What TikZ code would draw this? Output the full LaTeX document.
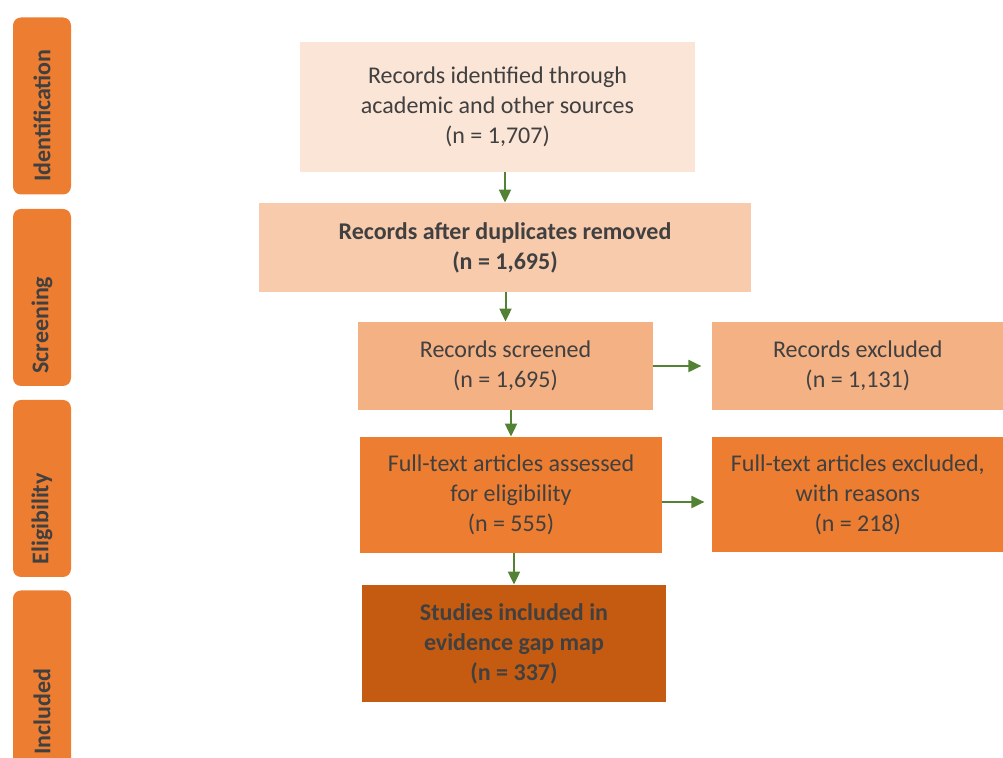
\documentclass[tikz,border=0pt]{standalone}
\usepackage{fontspec}
\setmainfont{Carlito}
\usepackage{tikz}
\usetikzlibrary{positioning,arrows.meta}
\definecolor{peachA}{HTML}{FBE5D6}
\definecolor{peachB}{HTML}{F8CBAD}
\definecolor{peachC}{HTML}{F4B183}
\definecolor{orangeA}{HTML}{ED7D31}
\definecolor{orangeB}{HTML}{C55A11}
\definecolor{txtgrey}{HTML}{404040}
\definecolor{arrgreen}{HTML}{548235}

\begin{document}
\begin{tikzpicture}[x=0.5pt, y=-0.5pt,
      every node/.style={align=center, text=txtgrey, inner sep=0pt,
        font=\fontsize{12}{15}\selectfont},
      tab/.style={fill=orangeA, rounded corners=4pt, rotate=90,
        minimum width=88.5pt, minimum height=29pt, text width=76pt,
        align=left, inner xsep=6pt, font=\fontsize{12}{15}\selectfont\bfseries},
      arr/.style={draw=arrgreen, line width=1pt, -{Triangle[length=6.5pt, width=6pt]}},
      idw/.style={minimum width=197.5pt, minimum height=65pt},
      dupw/.style={minimum width=246pt, minimum height=44.5pt},
      smallw/.style={minimum width=147.5pt, minimum height=44pt},
      exw/.style={minimum width=146pt, minimum height=44pt},
      midw/.style={minimum width=151pt, minimum height=58pt},
      bigw/.style={minimum width=146pt, minimum height=57.5pt},
      incw/.style={minimum width=152pt, minimum height=58.5pt}]
    \useasboundingbox (0,0) rectangle (1003,758);
    \clip (0,0) rectangle (1003,758);

    % stage tabs
    \node[tab] (tabid) at (42,106) {Identification};
    \node[tab] (tabscr) at (42,297.5) {Screening};
    \node[tab] (tabel) at (42,488.5) {Eligibility};
    \node[tab] (tabinc) at (42,679) {Included};

    % main column
    \node[idw, fill=peachA] (ident) at (497.5,107) {Records identified through\\ academic and other sources\\ (n = 1,707)};
    \node[dupw, fill=peachB, font=\fontsize{12}{15}\selectfont\bfseries] (dup) at (505,247.5) {Records after duplicates removed\\ (n = 1,695)};
    \node[smallw, fill=peachC] (scr) at (505.5,366) {Records screened\\ (n = 1,695)};
    \node[midw, fill=orangeA] (full) at (511,495) {Full-text articles assessed\\ for eligibility\\ (n = 555)};
    \node[incw, fill=orangeB, font=\fontsize{12}{15}\selectfont\bfseries] (incl) at (514,643.5) {Studies included in\\ evidence gap map\\ (n = 337)};

    % exclusions
    \node[exw, fill=peachC, right=29pt of scr] (excl) {Records excluded\\ (n = 1,131)};
    \node[bigw, fill=orangeA, right=24.5pt of full] (ftex) {Full-text articles excluded,\\ with reasons\\ (n = 218)};

    \draw[arr] (ident.south -| dup.north) -- (dup.north);
    \draw[arr] (dup.south -| scr.north) -- (scr.north);
    \draw[arr] (scr.south -| full.north) -- (full.north);
    \draw[arr] (full.south -| incl.north) -- (incl.north);
    \draw[arr, shorten >=5pt] (scr.east) -- (scr.east -| excl.west);
    \draw[arr, shorten >=3.5pt] ([yshift=-3.5pt]full.east) -- ([yshift=-3.5pt]full.east -| ftex.west);
  \end{tikzpicture}
\end{document}
